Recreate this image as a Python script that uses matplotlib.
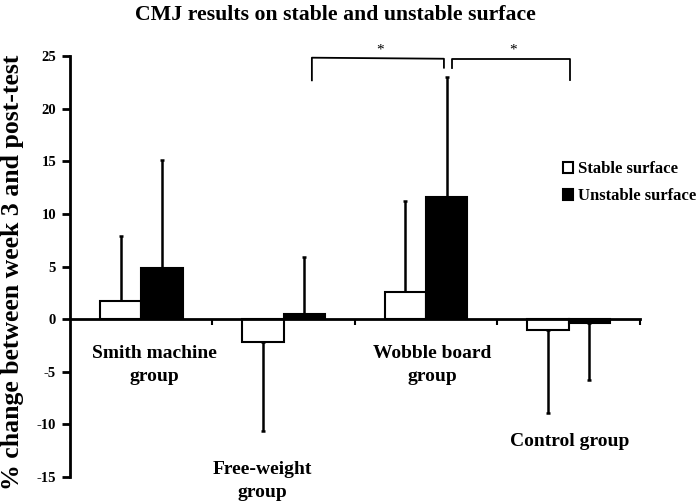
import matplotlib
matplotlib.use("Agg")
import matplotlib.pyplot as plt
import numpy as np

groups = ["Smith machine\ngroup", "Free-weight\ngroup", "Wobble board\ngroup", "Control group"]
stable = [1.7, -2.2, 2.6, -1.0]
unstable = [4.9, 0.5, 11.6, -0.4]
stable_sd = [6.2, 8.4, 8.6, 7.9]
unstable_sd = [10.2, 5.4, 11.4, 5.4]
yticks = [-15, -10, -5, 0, 5, 10, 15, 20, 25]

plt.rcParams['font.family'] = ['Liberation Serif', 'DejaVu Serif']
fig = plt.figure(figsize=(7, 5.01), dpi=100)
ax = fig.add_axes([0.1, 0.048, 0.814, 0.84])

x = np.arange(len(groups))
w = 0.29
lw = 1.5
ax.bar(x - w/2, stable, w, color='white', edgecolor='black', linewidth=lw, zorder=3, label='Stable surface')
ax.bar(x + w/2, unstable, w, color='black', edgecolor='black', linewidth=lw, zorder=3, label='Unstable surface')

def one_sided(xs, vals, sds):
    for xi, v, sd in zip(xs, vals, sds):
        up = v >= 0
        ax.errorbar([xi], [v], yerr=[[0 if up else sd], [sd if up else 0]], fmt='none',
                    ecolor='black', elinewidth=1.8, capsize=1.5, capthick=1.8, zorder=2)

one_sided(x - w/2, stable, stable_sd)
one_sided(x + w/2, unstable, unstable_sd)

ax.set_xlim(-0.5, 3.5)
ax.set_ylim(-15, 25)
ax.set_yticks(yticks)
ax.set_yticklabels([str(t) for t in yticks], fontsize=10.5, fontweight='bold')
ax.spines['top'].set_visible(False)
ax.spines['right'].set_visible(False)
ax.spines['bottom'].set_position(('data', 0))
ax.spines['left'].set_linewidth(2)
ax.spines['bottom'].set_linewidth(2)
ax.spines['bottom'].set_zorder(4)
ax.set_xticks([0.5, 1.5, 2.5, 3.5])
ax.set_xticklabels([])
ax.tick_params(axis='x', direction='out', length=4, width=1.5)
ax.tick_params(axis='y', direction='out', length=6, width=2, pad=4)

# category labels
lab_pos = [(0.09, -2.5), (-0.153, -13.5), (0.044, -2.5), (0.009, -10.8)]
for i, (g, (dx, yy)) in enumerate(zip(groups, lab_pos)):
    ax.text(i + dx, yy, g, ha='center', va='top', fontsize=14, fontweight='bold', linespacing=1.42)

# significance brackets
blw = 1.3
ax.plot([1.198, 1.198, 2.125, 2.125], [22.7, 24.85, 24.75, 23.9], color='black', lw=blw, clip_on=False)
ax.plot([2.181, 2.181, 3.009, 3.009], [23.9, 24.7, 24.7, 22.7], color='black', lw=blw, clip_on=False)
ax.text(1.675, 25.0, '*', ha='center', va='bottom', fontsize=11)
ax.text(2.609, 25.0, '*', ha='center', va='bottom', fontsize=11)

fig.text(0.018, 0.457, '% change between week 3 and post-test', rotation=90, ha='center', va='center',
         fontsize=18.5, fontweight='bold')
fig.text(0.479, 0.97, 'CMJ results on stable and unstable surface', ha='center', va='center',
         fontsize=15.7, fontweight='bold')

leg = ax.legend(loc='upper left', bbox_to_anchor=(0.865, 0.75), frameon=False, prop={'weight': 'bold', 'size': 12},
                handlelength=0.6, handleheight=0.6, handletextpad=0.3, labelspacing=0.65,
                borderaxespad=0, borderpad=0)

fig.savefig('out.png', dpi=100)
